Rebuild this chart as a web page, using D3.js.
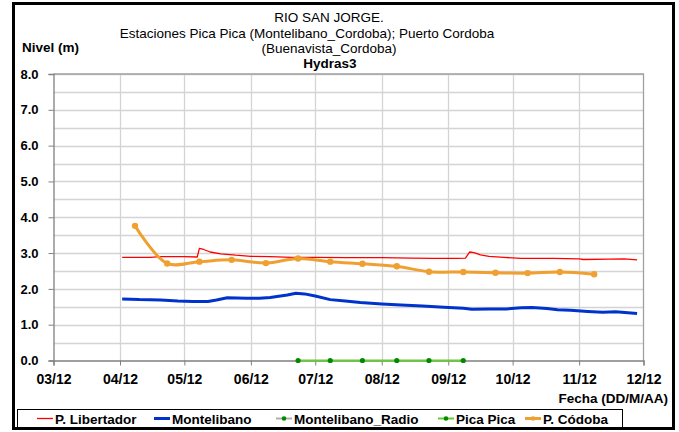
<!DOCTYPE html>
<html>
<head>
<meta charset="utf-8">
<script src="https://cdn.jsdelivr.net/npm/d3@7"></script>
<style>
  html, body { margin: 0; padding: 0; background: #fff; }
  svg { display: block; font-family: "Liberation Sans", Arial, sans-serif; }
</style>
</head>
<body>
<svg id="chart" width="679" height="432"></svg>
<script>
// Level series for Río San Jorge stations (date, metres)
const libertadorDates = ["2012-04-02","2012-04-15","2012-04-20","2012-05-01","2012-05-07","2012-05-08","2012-05-10","2012-05-13","2012-05-18","2012-05-25","2012-06-01","2012-06-10","2012-06-20","2012-07-01","2012-07-15","2012-08-01","2012-08-15","2012-08-25","2012-09-05","2012-09-09","2012-09-11","2012-09-13","2012-09-16","2012-09-20","2012-09-27","2012-10-05","2012-10-20","2012-11-01","2012-11-03","2012-11-15","2012-11-22","2012-11-28"];
const libertadorValues = [2.88,2.88,2.90,2.90,2.89,3.13,3.10,3.03,2.98,2.94,2.91,2.90,2.88,2.88,2.87,2.87,2.86,2.85,2.85,2.86,3.03,3.01,2.95,2.91,2.88,2.85,2.85,2.84,2.82,2.83,2.84,2.81];

const montelibanoDates = ["2012-04-02","2012-04-10","2012-04-20","2012-04-28","2012-05-05","2012-05-12","2012-05-16","2012-05-21","2012-05-30","2012-06-05","2012-06-10","2012-06-18","2012-06-22","2012-06-26","2012-07-01","2012-07-08","2012-07-15","2012-07-22","2012-08-01","2012-08-10","2012-08-20","2012-08-30","2012-09-08","2012-09-12","2012-09-20","2012-09-28","2012-10-05","2012-10-10","2012-10-17","2012-10-22","2012-10-28","2012-11-05","2012-11-12","2012-11-18","2012-11-28"];
const montelibanoValues = [1.72,1.70,1.69,1.66,1.65,1.65,1.69,1.75,1.74,1.74,1.76,1.83,1.88,1.86,1.80,1.70,1.66,1.62,1.58,1.55,1.52,1.49,1.46,1.43,1.44,1.44,1.47,1.48,1.45,1.42,1.40,1.37,1.35,1.36,1.31];

const cordobaDates = ["2012-04-08","2012-04-23","2012-05-08","2012-05-23","2012-06-08","2012-06-23","2012-07-08","2012-07-23","2012-08-08","2012-08-23","2012-09-08","2012-09-23","2012-10-08","2012-10-23","2012-11-08"];
const cordobaValues = [3.76,2.71,2.76,2.81,2.72,2.85,2.76,2.70,2.63,2.48,2.47,2.45,2.44,2.47,2.41];

const picaDates = ["2012-06-23","2012-07-08","2012-07-23","2012-08-08","2012-08-23","2012-09-08"];
const picaValues = [0,0,0,0,0,0];

const yTicks = [0,1,2,3,4,5,6,7,8];
const legendNames = ["P. Libertador","Montelibano","Montelibano_Radio","Pica Pica","P. Códoba"];

const parse = d3.timeParse("%Y-%m-%d");
const zip = (ds, vs) => ds.map((d, i) => ({ date: parse(d), value: vs[i] }));

const svg = d3.select("#chart");
const plot = { left: 53.5, right: 643.5, top: 74, bottom: 360.5 };
const FONT = "Liberation Sans, Arial, sans-serif";

const x = d3.scaleTime()
  .domain([parse("2012-03-01"), parse("2012-12-01")])
  .range([plot.left, plot.right]);
const y = d3.scaleLinear().domain([0, 8]).range([plot.bottom, plot.top]);

// outer frame
svg.append("rect").attr("x", 13.5).attr("y", 3.5).attr("width", 660).attr("height", 425)
  .attr("fill", "none").attr("stroke", "#000").attr("stroke-width", 3);

// grid
const grid = svg.append("g");
grid.selectAll("line.h").data(d3.range(0.5, 8.01, 0.5)).join("line")
  .attr("x1", plot.left).attr("x2", plot.right)
  .attr("y1", d => Math.round(y(d)) + 0.5).attr("y2", d => Math.round(y(d)) + 0.5)
  .attr("stroke", "#d4d4d4").attr("stroke-width", 1.3);
const monthTicks = d3.timeMonth.range(parse("2012-04-01"), parse("2012-12-01"));
grid.selectAll("line.v").data(monthTicks).join("line")
  .attr("x1", d => Math.round(x(d)) + 0.5).attr("x2", d => Math.round(x(d)) + 0.5)
  .attr("y1", plot.top).attr("y2", plot.bottom)
  .attr("stroke", "#d4d4d4").attr("stroke-width", 1.3);

// plot border top/right
svg.append("path")
  .attr("d", `M${plot.left},${plot.top}H${plot.right}V${plot.bottom}`)
  .attr("fill", "none").attr("stroke", "#a0a0a0").attr("stroke-width", 1.3);

// axes
const xAxis = d3.axisBottom(x)
  .tickValues(d3.timeMonth.range(parse("2012-03-01"), parse("2012-12-02")))
  .tickFormat(d3.timeFormat("%m/%y"))
  .tickSizeOuter(0).tickSize(5).tickPadding(9);
const gx = svg.append("g").attr("transform", `translate(0,${plot.bottom})`).call(xAxis);
gx.select(".domain").attr("stroke", "#808080").attr("stroke-width", 1.3);
gx.selectAll(".tick line").attr("stroke", "#808080");
gx.selectAll(".tick text").attr("font-size", 14).attr("font-weight", "bold")
  .attr("fill", "#000").attr("font-family", FONT);

const yAxis = d3.axisLeft(y).tickValues(yTicks).tickFormat(d3.format(".1f"))
  .tickSizeOuter(0).tickSize(5).tickPadding(10);
const gy = svg.append("g").attr("transform", `translate(${plot.left},0)`).call(yAxis);
gy.select(".domain").attr("stroke", "#808080").attr("stroke-width", 1.3);
gy.selectAll(".tick line").attr("stroke", "#808080");
gy.selectAll(".tick text").attr("font-size", 13).attr("font-weight", "bold")
  .attr("fill", "#000").attr("font-family", FONT);

// series
const line = d3.line().x(d => x(d.date)).y(d => y(d.value));
const smooth = d3.line().x(d => x(d.date)).y(d => y(d.value)).curve(d3.curveCatmullRom.alpha(0.5));

const picaData = zip(picaDates, picaValues);
svg.append("path").datum(picaData).attr("d", line)
  .attr("fill", "none").attr("stroke", "#66cc33").attr("stroke-width", 2);
svg.selectAll("circle.pica").data(picaData).join("circle")
  .attr("cx", d => x(d.date)).attr("cy", d => y(d.value)).attr("r", 2.6).attr("fill", "#008a00");

svg.append("path").datum(zip(libertadorDates, libertadorValues)).attr("d", line)
  .attr("fill", "none").attr("stroke", "#ff0000").attr("stroke-width", 1.3).attr("stroke-linejoin", "round");

svg.append("path").datum(zip(montelibanoDates, montelibanoValues)).attr("d", line)
  .attr("fill", "none").attr("stroke", "#0033cc").attr("stroke-width", 3).attr("stroke-linejoin", "round");

const cordobaData = zip(cordobaDates, cordobaValues);
svg.append("path").datum(cordobaData).attr("d", smooth)
  .attr("fill", "none").attr("stroke", "#f0a030").attr("stroke-width", 3);
svg.selectAll("circle.cor").data(cordobaData).join("circle")
  .attr("cx", d => x(d.date)).attr("cy", d => y(d.value)).attr("r", 3.2).attr("fill", "#f0a030");

// titles
const title = svg.append("g").attr("font-size", 13.5).attr("fill", "#000").attr("text-anchor", "middle");
title.append("text").attr("x", 329).attr("y", 22).text("RIO SAN JORGE.");
title.append("text").attr("x", 307).attr("y", 38).text("Estaciones Pica Pica (Montelibano_Cordoba); Puerto Cordoba");
title.append("text").attr("x", 329).attr("y", 53).text("(Buenavista_Cordoba)");
title.append("text").attr("x", 330).attr("y", 68).attr("font-weight", "bold").text("Hydras3");

svg.append("text").attr("x", 22).attr("y", 52).attr("font-size", 13.5).attr("font-weight", "bold").text("Nivel (m)");
svg.append("text").attr("x", 668).attr("y", 403).attr("font-size", 13.5).attr("font-weight", "bold")
  .attr("text-anchor", "end").text("Fecha (DD/M/AA)");

// legend
const lg = svg.append("g");
lg.append("rect").attr("x", 17.5).attr("y", 409.5).attr("width", 605).attr("height", 18)
  .attr("fill", "#fff").attr("stroke", "#000").attr("stroke-width", 1);
const legendX = [37, 154, 276, 438, 525];
const legendStroke = ["#ff0000", "#0033cc", "#b0b0b0", "#66cc33", "#f0a030"];
const legendWidth = [1.3, 3, 2, 2, 3];
const legendDot = [null, null, "#008a00", "#008a00", "#f0a030"];
legendNames.forEach((name, i) => {
  const g = lg.append("g");
  g.append("line").attr("x1", legendX[i]).attr("x2", legendX[i] + 16).attr("y1", 418.5).attr("y2", 418.5)
    .attr("stroke", legendStroke[i]).attr("stroke-width", legendWidth[i]);
  if (legendDot[i]) g.append("circle").attr("cx", legendX[i] + 8).attr("cy", 418.5).attr("r", 2.3).attr("fill", legendDot[i]);
  g.append("text").attr("x", legendX[i] + 18).attr("y", 423.5).attr("font-size", 13.5).attr("font-weight", "bold").text(name);
});
</script>
</body>
</html>
